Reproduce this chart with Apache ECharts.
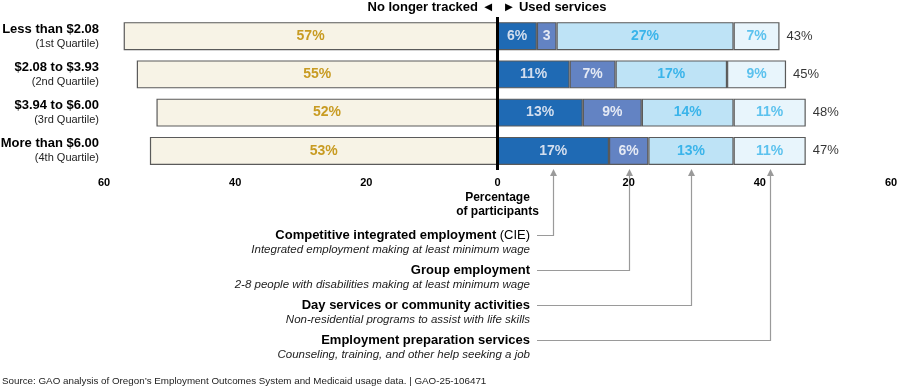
<!DOCTYPE html>
<html>
<head>
<meta charset="utf-8">
<script src="https://cdn.jsdelivr.net/npm/echarts@6/dist/echarts.min.js"></script>
<style>
html,body{margin:0;padding:0;background:#fff;}
#c{width:898px;height:388px;}
</style>
</head>
<body>
<div id="c"></div>
<script>
// ---- data ----
var categories = ['Less than $2.08', '$2.08 to $3.93', '$3.94 to $6.00', 'More than $6.00'];
var subLabels = ['(1st Quartile)', '(2nd Quartile)', '(3rd Quartile)', '(4th Quartile)'];
var noLongerTracked = [57, 55, 52, 53];
var cie = [6, 11, 13, 17];
var groupEmp = [3, 7, 9, 6];
var dayServices = [27, 17, 14, 13];
var empPrep = [7, 9, 11, 11];
var usedTotals = [43, 45, 48, 47];
var xTicks = [-60, -40, -20, 0, 20, 40, 60];

var FONT = '"Liberation Sans", Arial, sans-serif';
var chart = echarts.init(document.getElementById('c'));

function segLabel(color) {
  return {
    show: true, position: 'inside', color: color, fontFamily: FONT,
    fontSize: 14, fontWeight: 'bold',
    formatter: function (p) { var v = Math.abs(p.value); return v < 5 ? String(v) : v + '%'; }
  };
}
var border = { borderColor: '#5a5a5a', borderWidth: 1.2 };

var series = [
  {
    name: 'No longer tracked', type: 'bar', stack: 's', barWidth: 28,
    data: noLongerTracked.map(function (v) { return -v; }),
    itemStyle: Object.assign({ color: '#f7f3e6' }, border),
    label: segLabel('#c89b22'),
    markLine: {
      silent: true, symbol: 'none', label: { show: false },
      lineStyle: { color: '#000', width: 3, type: 'solid' },
      data: [{ xAxis: 0 }], z: 10
    }
  },
  { name: 'CIE', type: 'bar', stack: 's', data: cie,
    itemStyle: Object.assign({ color: '#1f6ab4' }, border), label: segLabel('#d3deee') },
  { name: 'Group', type: 'bar', stack: 's', data: groupEmp,
    itemStyle: Object.assign({ color: '#6383c3' }, border), label: segLabel('#e4e9f4') },
  { name: 'Day', type: 'bar', stack: 's', data: dayServices,
    itemStyle: Object.assign({ color: '#bee3f6' }, border), label: segLabel('#3ab4ea') },
  { name: 'Prep', type: 'bar', stack: 's', data: empPrep,
    itemStyle: Object.assign({ color: '#e8f5fc' }, border), label: segLabel('#5cc2ee') },
  {
    name: 'Total', type: 'scatter', symbolSize: 0,
    data: categories.map(function (c, i) {
      return [cie[i] + groupEmp[i] + dayServices[i] + empPrep[i], i];
    }),
    label: {
      show: true, position: 'right', distance: 7, color: '#000', fontFamily: FONT, fontSize: 13,
      formatter: function (p) { return usedTotals[p.dataIndex] + '%'; }
    },
    silent: true
  }
];

chart.setOption({
  animation: false,
  textStyle: { fontFamily: FONT },
  grid: { left: 104, right: 7, top: 17, height: 153, outerBoundsMode: 'none', containLabel: false },
  xAxis: {
    type: 'value', min: xTicks[0], max: xTicks[xTicks.length - 1], interval: 20,
    axisLine: { show: false }, axisTick: { show: false }, splitLine: { show: false },
    axisLabel: {
      margin: 7, color: '#000', fontWeight: 'bold', fontSize: 11, fontFamily: FONT,
      formatter: function (v) { return String(Math.abs(v)); }
    }
  },
  yAxis: {
    type: 'category', inverse: true, data: categories,
    axisLine: { show: false }, axisTick: { show: false },
    axisLabel: {
      margin: 5, align: 'right', fontFamily: FONT,
      formatter: function (v, i) { return '{b|' + v + '}\n{s|' + subLabels[i] + '}'; },
      rich: {
        b: { fontSize: 13, fontWeight: 'bold', color: '#000', fontFamily: FONT, lineHeight: 15, align: 'right' },
        s: { fontSize: 11, color: '#222', fontFamily: FONT, lineHeight: 14, align: 'right' }
      }
    }
  },
  series: series
});

// ---- annotations ----
var lastRow = categories.length - 1;
var segs = [cie, groupEmp, dayServices, empPrep];
var legendItems = [
  { title: '{b|Competitive integrated employment} {n|(CIE)}', sub: 'Integrated employment making at least minimum wage', y: 235 },
  { title: '{b|Group employment}', sub: '2-8 people with disabilities making at least minimum wage', y: 270 },
  { title: '{b|Day services or community activities}', sub: 'Non-residential programs to assist with life skills', y: 305 },
  { title: '{b|Employment preparation services}', sub: 'Counseling, training, and other help seeking a job', y: 340 }
];
var rowCenter = chart.convertToPixel({ gridIndex: 0 }, [0, lastRow]);
var tipY = rowCenter[1] + 14 + 4;
var graphics = [];
var cum = 0;
legendItems.forEach(function (it, k) {
  var v = segs[k][lastRow];
  var cx = Math.round(chart.convertToPixel({ gridIndex: 0 }, [cum + v / 2, lastRow])[0]);
  cum += v;
  graphics.push({
    type: 'text', x: 530, y: it.y, silent: true,
    style: {
      text: it.title, align: 'right', verticalAlign: 'middle',
      rich: {
        b: { fontSize: 13, fontWeight: 'bold', fill: '#000', color: '#000', fontFamily: FONT },
        n: { fontSize: 13, fill: '#000', color: '#000', fontFamily: FONT }
      }
    }
  });
  graphics.push({
    type: 'text', x: 530, y: it.y + 15, silent: true,
    style: {
      text: it.sub, align: 'right', verticalAlign: 'middle',
      fontSize: 11.5, fontStyle: 'italic', fill: '#222', fontFamily: FONT
    }
  });
  graphics.push({
    type: 'polyline', silent: true,
    shape: { points: [[537, it.y + 0.5], [cx + 0.5, it.y + 0.5], [cx + 0.5, tipY + 5]] },
    style: { stroke: '#9a9a9a', lineWidth: 1.2, fill: null }
  });
  graphics.push({
    type: 'polygon', silent: true,
    shape: { points: [[cx + 0.5, tipY], [cx - 3, tipY + 7], [cx + 4, tipY + 7]] },
    style: { fill: '#9a9a9a' }
  });
});
var zeroX = chart.convertToPixel({ gridIndex: 0 }, [0, 0])[0];
graphics.push(
  { type: 'text', x: zeroX - 3, y: 7, silent: true,
    style: { text: 'No longer tracked ◄', align: 'right', verticalAlign: 'middle', fontSize: 13, fontWeight: 'bold', fill: '#000', fontFamily: FONT } },
  { type: 'text', x: zeroX + 5, y: 7, silent: true,
    style: { text: '► Used services', align: 'left', verticalAlign: 'middle', fontSize: 13, fontWeight: 'bold', fill: '#000', fontFamily: FONT } },
  { type: 'text', x: zeroX, y: 205, silent: true,
    style: { text: 'Percentage\nof participants', align: 'center', verticalAlign: 'middle', lineHeight: 14, fontSize: 12, fontWeight: 'bold', fill: '#000', fontFamily: FONT } },
  { type: 'text', x: 2, y: 381, silent: true,
    style: { text: 'Source: GAO analysis of Oregon\u2019s Employment Outcomes System and Medicaid usage data. | GAO-25-106471', align: 'left', verticalAlign: 'middle', fontSize: 9.8, fill: '#222', fontFamily: FONT } }
);
chart.setOption({ graphic: graphics });
</script>
</body>
</html>
